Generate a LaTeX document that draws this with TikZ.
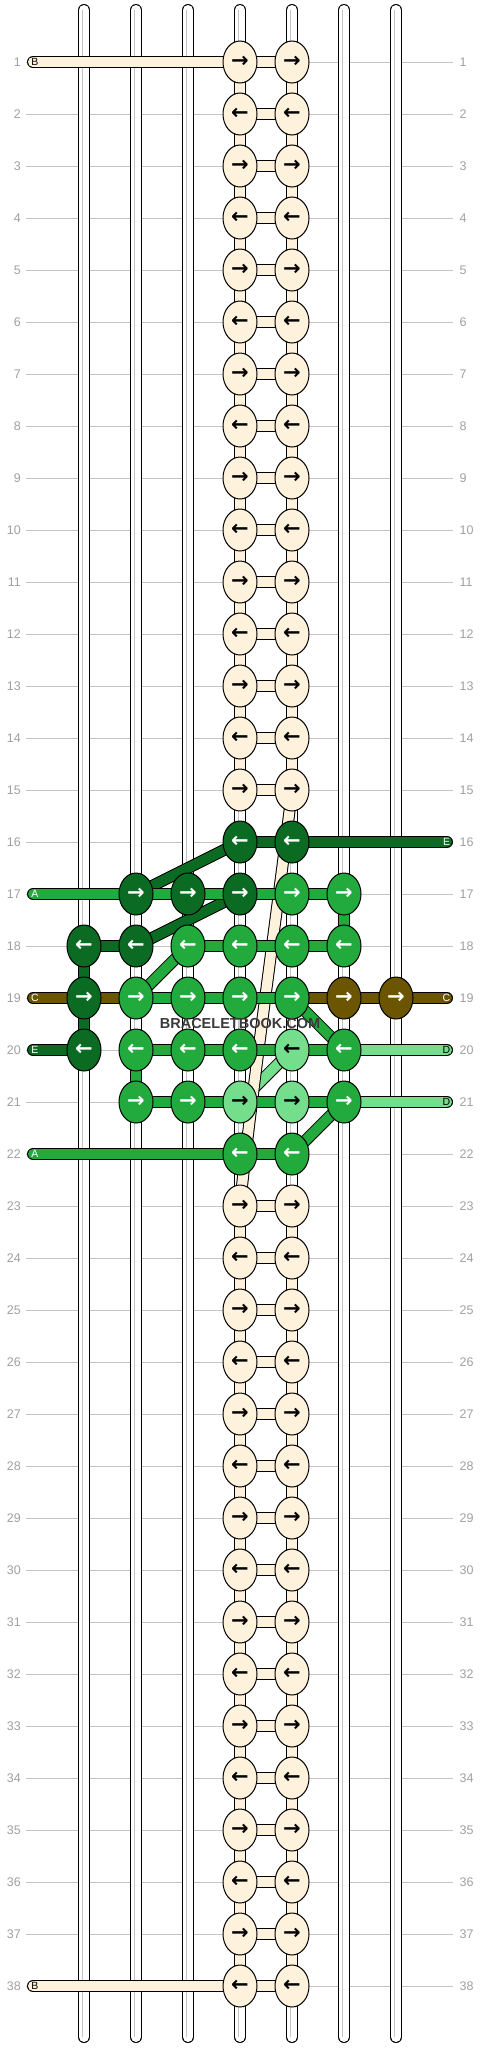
\documentclass[tikz,border=0pt]{standalone}
\usepackage{fontspec}
\setmainfont{Liberation Sans}
\newfontfamily\arrowfont{DejaVu Sans}
\usetikzlibrary{shapes.geometric}
\pgfdeclarelayer{gridl}
\pgfdeclarelayer{tubel}
\pgfdeclarelayer{connl}
\pgfsetlayers{gridl,tubel,connl,main}
\definecolor{cream}{HTML}{FFF2DC}
\definecolor{darkg}{HTML}{0B6B22}
\definecolor{midg}{HTML}{22AA3D}
\definecolor{lightg}{HTML}{74DE8C}
\definecolor{brownc}{HTML}{6B5500}
\definecolor{rowgray}{HTML}{C4C4C4}
\definecolor{labgray}{HTML}{A0A0A0}
\definecolor{wmgray}{HTML}{3A3A3A}
\begin{document}
\begin{tikzpicture}[x=1pt,y=-1pt,
  knot/.style={ellipse, draw=black, line width=1pt, minimum width=34pt, minimum height=42pt, inner sep=0pt, fill=#1, font=\arrowfont\bfseries\fontsize{21}{21}\selectfont},
  conn/.style={line width=1pt, double=#1, double distance=10pt},
  thread/.style={conn=#1, line cap=round},
  tube/.style={line width=1pt, double=white, double distance=10pt, line cap=round},
  rowlab/.style={text=labgray, font=\fontsize{12.5}{12.5}\selectfont, inner sep=0pt},
  endlab/.style={font=\fontsize{10.5}{10.5}\selectfont, inner sep=0pt}
]
\useasboundingbox (0,0) rectangle (480,2048);
\begin{pgfonlayer}{gridl}
\fill[white] (0,0) rectangle (480,2048);
\end{pgfonlayer}

% row numbers and grid lines
\foreach \r in {1,...,38}{
  \node[rowlab, anchor=east] (ll\r) at (21,{62+52*(\r-1)}) {\r};
  \node[rowlab, anchor=west] (lr\r) at (459.5,{62+52*(\r-1)}) {\r};
  \begin{pgfonlayer}{gridl}
  \draw[rowgray, line width=1pt] ([xshift=5pt]ll\r.east) -- ([xshift=-6.5pt]lr\r.west);
  \end{pgfonlayer}
}

% tubes (vertical strings)
\foreach \c in {1,...,7}{
  \coordinate (tt\c) at ({84+52*(\c-1)},10);
  \coordinate (tb\c) at ({84+52*(\c-1)},2037);
  \begin{pgfonlayer}{tubel}
  \draw[tube] (tt\c) -- (tb\c);
  \draw[rowgray, line width=1.2pt] ([xshift=-1.3pt]tt\c) -- ([xshift=-1.3pt]tb\c);
  \end{pgfonlayer}
}

% cream knots
\foreach \r in {1,...,15}{
  \foreach \c in {4,5}{
    \node[knot=cream, text=black] (k\c-\r) at ({84+52*(\c-1)},{62+52*(\r-1)}) {\ifodd\r →\else ←\fi};
  }
}
\foreach \r in {23,...,38}{
  \foreach \c in {4,5}{
    \node[knot=cream, text=black] (k\c-\r) at ({84+52*(\c-1)},{62+52*(\r-1)}) {\ifodd\r →\else ←\fi};
  }
}
% coloured knots
\foreach \c/\r/\f/\t/\a in {
 4/16/darkg/white/←, 5/16/darkg/white/←,
 2/17/darkg/white/→, 3/17/darkg/white/→, 4/17/darkg/white/→, 5/17/midg/white/→, 6/17/midg/white/→,
 1/18/darkg/white/←, 2/18/darkg/white/←, 3/18/midg/white/←, 4/18/midg/white/←, 5/18/midg/white/←, 6/18/midg/white/←,
 1/19/darkg/white/→, 2/19/midg/white/→, 3/19/midg/white/→, 4/19/midg/white/→, 5/19/midg/white/→, 6/19/brownc/white/→, 7/19/brownc/white/→,
 1/20/darkg/white/←, 2/20/midg/white/←, 3/20/midg/white/←, 4/20/midg/white/←, 5/20/lightg/black/←, 6/20/midg/white/←,
 2/21/midg/white/→, 3/21/midg/white/→, 4/21/lightg/black/→, 5/21/lightg/black/→, 6/21/midg/white/→,
 4/22/midg/white/←, 5/22/midg/white/←}{
  \node[knot=\f, text=\t] (k\c-\r) at ({84+52*(\c-1)},{62+52*(\r-1)}) {\a};
}

\begin{pgfonlayer}{connl}
% cream connectors
\foreach \r [evaluate=\r as \s using int(\r+1)] in {1,...,14}{
  \draw[conn=cream] (k4-\r.center) -- (k4-\s.center);
  \draw[conn=cream] (k5-\r.center) -- (k5-\s.center);
}
\foreach \r [evaluate=\r as \s using int(\r+1)] in {23,...,37}{
  \draw[conn=cream] (k4-\r.center) -- (k4-\s.center);
  \draw[conn=cream] (k5-\r.center) -- (k5-\s.center);
}
\foreach \r in {1,...,15,23,24,...,38}{
  \draw[conn=cream] (k4-\r.center) -- (k5-\r.center);
}
% light green diagonal (under the cream band)
\draw[conn=lightg] (k5-20.center) -- (k4-21.center);
% cream band crossing the pattern
\draw[conn=cream] (k5-15.center) .. controls (284,860) and (248,1120) .. (k4-23.center);
% diagonals
\foreach \a/\b/\f in {4-16/2-17/darkg, 4-17/2-18/darkg, 3-18/2-19/midg, 5-19/6-20/midg, 6-21/5-22/midg}{
  \draw[conn=\f] (k\a.center) -- (k\b.center);
}
% horizontal connectors
\foreach \r/\a/\b/\f in {16/4/5/darkg, 17/2/3/midg, 17/3/4/midg, 17/4/5/midg, 17/5/6/midg,
  18/1/2/darkg, 18/3/4/midg, 18/4/5/midg, 18/5/6/midg,
  19/1/2/brownc, 19/2/3/midg, 19/3/4/midg, 19/4/5/midg, 19/5/6/brownc, 19/6/7/brownc,
  20/2/3/midg, 20/3/4/midg, 20/4/5/midg, 20/5/6/midg,
  21/2/3/midg, 21/3/4/midg, 21/4/5/midg, 21/5/6/midg, 22/4/5/midg}{
  \draw[conn=\f] (k\a-\r.center) -- (k\b-\r.center);
}
% vertical connectors
\foreach \c/\a/\b/\f in {1/18/19/darkg, 1/19/20/darkg, 2/20/21/midg, 6/17/18/midg}{
  \draw[conn=\f] (k\c-\a.center) -- (k\c-\b.center);
}
\end{pgfonlayer}

% thread ends, left
\foreach \r/\c/\f/\t/\l in {1/4/cream/black/B, 17/2/midg/white/A, 19/1/brownc/white/C, 20/1/darkg/white/E, 22/4/midg/white/A, 38/4/cream/black/B}{
  \coordinate (L\r) at (33,{62+52*(\r-1)});
  \begin{pgfonlayer}{connl}
  \draw[thread=\f] (L\r) -- (k\c-\r.center);
  \end{pgfonlayer}
  \node[endlab, text=\t] (lt\r) at (35,{62+52*(\r-1)}) {\l};
}
% thread ends, right
\foreach \r/\c/\f/\t/\l in {16/5/darkg/white/E, 19/7/brownc/white/C, 20/6/lightg/black/D, 21/6/lightg/black/D}{
  \coordinate (R\r) at (447,{62+52*(\r-1)});
  \begin{pgfonlayer}{connl}
  \draw[thread=\f] (k\c-\r.center) -- (R\r);
  \end{pgfonlayer}
  \node[endlab, text=\t] (rt\r) at (446.5,{62+52*(\r-1)}) {\l};
}

% watermark
\node[font=\bfseries\fontsize{14.5}{14.5}\selectfont, text=wmgray, inner sep=0pt] (wm) at (240,1023) {BRACELETBOOK.COM};
\end{tikzpicture}
\end{document}
